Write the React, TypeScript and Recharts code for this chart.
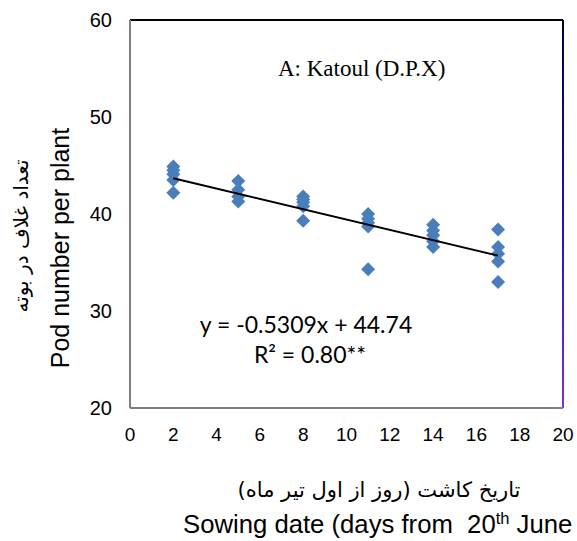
import React from "react";
import {
  ScatterChart,
  Scatter,
  XAxis,
  YAxis,
  ReferenceLine,
} from "recharts";

// sowing dates (days from 20th June) and pod counts
const sowingDays = [2, 5, 8, 11, 14, 17];
const podsDay2 = [44.9, 44.5, 44.1, 43.5, 42.2];
const podsDay5 = [43.4, 42.5, 41.8, 41.3];
const podsDay8 = [41.8, 41.5, 41.2, 40.8, 39.3];
const podsDay11 = [40.0, 39.5, 39.1, 38.7, 34.3];
const podsDay14 = [38.9, 38.3, 37.8, 37.2, 36.6];
const podsDay17 = [38.4, 36.6, 35.9, 35.1, 33.0];

// fitted line end points (y = -0.5309x + 44.74)
const trendX = [2, 17];
const trendY = [43.68, 35.71];

const xTicks = [0, 2, 4, 6, 8, 10, 12, 14, 16, 18, 20];
const yTicks = [20, 30, 40, 50, 60];

const podGroups = [podsDay2, podsDay5, podsDay8, podsDay11, podsDay14, podsDay17];
const points = podGroups.flatMap((group, i) =>
  group.map((pods) => ({ day: sowingDays[i], pods }))
);
const trend = trendX.map((day, i) => ({ day, pods: trendY[i] }));

const W = 577;
const H = 541;
const ARIAL = "'Liberation Sans', Arial, sans-serif";

// Excel style diamond marker
const Diamond = (props: any) => {
  const { cx, cy } = props;
  if (cx == null || cy == null) return null;
  const r = 7;
  return (
    <path
      d={`M${cx},${cy - r}L${cx + r},${cy}L${cx},${cy + r}L${cx - r},${cy}Z`}
      fill="#4A7EBB"
    />
  );
};

export default function App() {
  return (
    <div style={{ position: "absolute", left: 0, top: 0, width: W, height: H, background: "#fff" }}>
      <ScatterChart
        width={W}
        height={H}
        margin={{ top: 20, right: 14, bottom: 103, left: 0 }}
      >
        <XAxis
          type="number"
          dataKey="day"
          domain={[0, 20]}
          ticks={xTicks}
          tickLine={false}
          tickMargin={14}
          axisLine={{ stroke: "#808080", strokeWidth: 2 }}
          tick={{ fill: "#000", fontSize: 19, fontFamily: ARIAL }}
          interval={0}
        />
        <YAxis
          type="number"
          dataKey="pods"
          domain={[20, 60]}
          ticks={yTicks}
          width={130}
          tickLine={false}
          tickMargin={12}
          axisLine={{ stroke: "#808080", strokeWidth: 2 }}
          tick={{ fill: "#000", fontSize: 20, fontFamily: ARIAL }}
          interval={0}
        />
        <ReferenceLine y={60} stroke="#000" strokeWidth={2} />
        <ReferenceLine x={20} stroke="url(#rightEdge)" strokeWidth={2} />
        <Scatter data={points} shape={<Diamond />} isAnimationActive={false} />
        <Scatter
          data={trend}
          line={{ stroke: "#000", strokeWidth: 2 }}
          shape={() => null}
          isAnimationActive={false}
        />
      </ScatterChart>

      {/* titles and annotations */}
      <svg
        width={W}
        height={H}
        style={{ position: "absolute", left: 0, top: 0, pointerEvents: "none" }}
      >
        <defs>
          <linearGradient id="rightEdge" gradientUnits="userSpaceOnUse" x1="0" y1="20" x2="0" y2="408">
            <stop offset="0" stopColor="#000030" />
            <stop offset="0.3" stopColor="#0a0a8a" />
            <stop offset="0.55" stopColor="#1a1ac0" />
            <stop offset="0.8" stopColor="#5a22c8" />
            <stop offset="1" stopColor="#8a2cc8" />
          </linearGradient>
        </defs>
        <text x={278} y={76} fontSize={23} fontFamily="'Liberation Serif', 'Times New Roman', serif" fill="#000">
          A: Katoul (D.P.X)
        </text>
        <text x={306} y={333} textAnchor="middle" fontSize={23} fontFamily="Lato, 'Open Sans', sans-serif" fill="#000">
          y = -0.5309x + 44.74
        </text>
        <text x={310} y={363} textAnchor="middle" fontSize={23} fontFamily="Lato, 'Open Sans', sans-serif" fill="#000">
          R² = 0.80**
        </text>
        <text
          transform="translate(69,248) rotate(-90)"
          textAnchor="middle"
          fontSize={25}
          fontFamily={ARIAL}
          fill="#000"
        >
          Pod number per plant
        </text>
        <text
          transform="translate(28,236) rotate(-90)"
          textAnchor="middle"
          fontSize={20}
          fontFamily="'DejaVu Sans', sans-serif"
          fill="#000"
          direction="rtl"
        >
          تعداد غلاف در بوته
        </text>
        <text
          x={379}
          y={497}
          textAnchor="middle"
          fontSize={21}
          fontFamily="'DejaVu Sans', sans-serif"
          fill="#000"
          direction="rtl"
        >
          تاریخ کاشت (روز از اول تیر ماه)
        </text>
        <text x={183} y={533} fontSize={25.7} fontFamily={ARIAL} fill="#000" style={{ whiteSpace: "pre" }}>
          {"Sowing date (days from  20"}
          <tspan fontSize={16.5} dy={-9}>th</tspan>
          <tspan dy={9}>{" June"}</tspan>
        </text>
      </svg>
    </div>
  );
}
